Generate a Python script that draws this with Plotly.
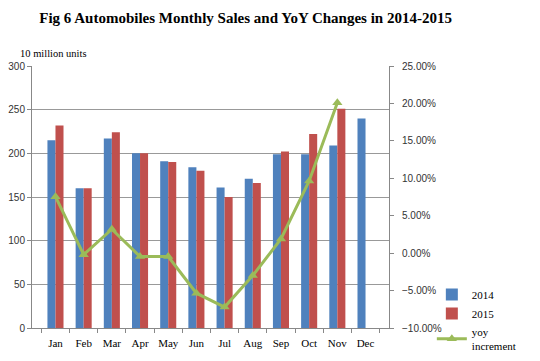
import plotly.graph_objects as go

months = ["Jan", "Feb", "Mar", "Apr", "May", "Jun", "Jul", "Aug", "Sep", "Oct", "Nov", "Dec"]
sales_2014 = [215, 160, 217, 200, 191, 184, 161, 171, 199, 199, 209, 240]
sales_2015 = [232, 160, 224, 200, 190, 180, 150, 166, 202, 222, 251, None]
yoy = [0.0755, -0.002, 0.032, -0.0046, -0.0046, -0.0535, -0.072, -0.030, 0.019, 0.0965, 0.201, None]

fig = go.Figure()
fig.add_trace(go.Bar(x=months, y=sales_2014, name="2014", marker_color="#4F81BD", marker_line_width=0))
fig.add_trace(go.Bar(x=months, y=sales_2015, name="2015", marker_color="#C0504D", marker_line_width=0))
fig.add_trace(go.Scatter(x=months, y=yoy, name="yoy<br>increment", yaxis="y2", mode="lines+markers",
                         line=dict(color="#9BBB59", width=3),
                         marker=dict(symbol="triangle-up", size=9, color="#9BBB59")))

fig.update_layout(
    width=540, height=361,
    margin=dict(l=24, r=159, t=58, b=41, autoexpand=False),
    paper_bgcolor="white", plot_bgcolor="white",
    barmode="group", bargap=0.43, bargroupgap=0,
    title=dict(text="<b>Fig 6 Automobiles Monthly Sales and YoY Changes in 2014-2015</b>",
               x=0.44, xanchor="center", y=0.972, yanchor="middle",
               font=dict(family="Liberation Serif", size=15, color="black")),
    font=dict(family="Liberation Sans", size=10, color="#333"),
    xaxis=dict(type="category", showgrid=False, showline=True, linecolor="#888", linewidth=1,
               ticks="outside", tickson="boundaries", ticklen=4, tickcolor="#888",
               tickangle=0, automargin=False, ticklabelstandoff=5,
               tickfont=dict(family="Liberation Serif", size=11, color="black")),
    yaxis=dict(range=[0, 300], dtick=50, showgrid=True, gridcolor="#999", gridwidth=1,
               showline=True, linecolor="#888", ticks="outside", ticklen=4, tickcolor="#888",
               automargin=False, tickfont=dict(size=10, color="#333"), zeroline=False),
    yaxis2=dict(range=[-0.10, 0.25], dtick=0.05, tickformat=".2%", overlaying="y", side="right",
                showgrid=False, showline=True, linecolor="#888", ticks="outside", ticklen=4,
                automargin=False, tickcolor="#888", tickfont=dict(size=10, color="#333"),
                zeroline=False, ticklabelstandoff=6),
    legend=dict(x=1.12, y=0.183, xanchor="left", yanchor="top", bgcolor="rgba(0,0,0,0)",
                font=dict(family="Liberation Serif", size=11, color="black"),
                tracegroupgap=2, itemwidth=30),
    showlegend=True,
)
fig.add_annotation(text="10 million units", xref="paper", yref="paper", x=-0.04, y=1.018,
                   xanchor="left", yanchor="bottom", showarrow=False,
                   font=dict(family="Liberation Serif", size=10.5, color="black"))

fig.write_html("out.html")
